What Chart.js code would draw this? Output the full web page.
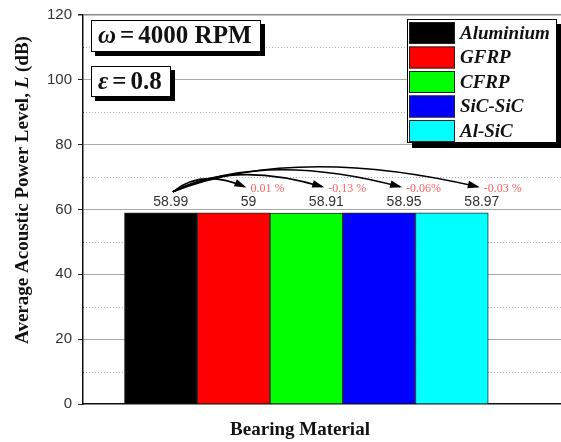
<!DOCTYPE html>
<html>
<head>
<meta charset="utf-8">
<script src="https://cdn.jsdelivr.net/npm/chart.js@4"></script>
<style>
html,body{margin:0;padding:0;background:#fff;overflow:hidden;}
#wrap{width:561px;height:442px;position:relative;}
</style>
</head>
<body>
<div id="wrap"><canvas id="c" width="561" height="442"></canvas></div>
<script>
// ---- data ----
const categories = ['Aluminium', 'GFRP', 'CFRP', 'SiC-SiC', 'Al-SiC'];
const values = [58.99, 59, 58.91, 58.95, 58.97];
const valueLabels = ['58.99', '59', '58.91', '58.95', '58.97'];
const changeLabels = ['0.01 %', '-0.13 %', '-0.06%', '-0.03 %'];
const colors = ['#000000', '#ff0000', '#00ff00', '#0000ff', '#00ffff'];
const majorTicks = [0, 20, 40, 60, 80, 100, 120];
const minorTicks = [10, 30, 50, 70, 90, 110];
const yTitle = ['Average Acoustic Power Level, ', 'L', ' (dB)'];
const xTitle = 'Bearing Material';
const speedText = ['\u03c9', '=', '4000 RPM'];
const eccText = ['\u03b5', '=', '0.8'];

const SERIF = '"Liberation Serif", "Times New Roman", serif';
const SANS = '"Liberation Sans", Arial, sans-serif';

const datasets = categories.map((c, i) => ({
  label: c,
  data: [{x: i + 1, y: values[i]}],
  backgroundColor: colors[i],
  borderColor: '#2a2a2a',
  borderWidth: 1,
  grouped: false,
  barPercentage: 1,
  categoryPercentage: 1
}));

function shadowBox(ctx, x, y, w, h, off) {
  ctx.save();
  ctx.fillStyle = '#000';
  ctx.fillRect(x + off, y + off, w, h);
  ctx.fillStyle = '#fff';
  ctx.fillRect(x, y, w, h);
  ctx.strokeStyle = '#000';
  ctx.lineWidth = 1;
  ctx.strokeRect(x + 0.5, y + 0.5, w - 1, h - 1);
  ctx.restore();
}

const minorGrid = {
  id: 'minorGrid',
  beforeDatasetsDraw(chart) {
    const {ctx, chartArea, scales} = chart;
    ctx.save();
    ctx.strokeStyle = '#b8b8b8';
    ctx.lineWidth = 1;
    ctx.setLineDash([1, 2]);
    minorTicks.forEach(v => {
      const y = Math.round(scales.y.getPixelForValue(v)) + 0.5;
      ctx.beginPath();
      ctx.moveTo(chartArea.left, y);
      ctx.lineTo(chartArea.right, y);
      ctx.stroke();
    });
    ctx.setLineDash([]);
    ctx.strokeStyle = '#222';
    minorTicks.forEach(v => {
      const y = Math.round(scales.y.getPixelForValue(v)) + 0.5;
      ctx.beginPath();
      ctx.moveTo(chartArea.left - 1, y);
      ctx.lineTo(chartArea.left + 1, y);
      ctx.stroke();
    });
    ctx.restore();
  }
};

const annotations = {
  id: 'annotations',
  afterDatasetsDraw(chart) {
    const {ctx, scales} = chart;
    const bars = categories.map((c, i) => chart.getDatasetMeta(i).data[0]);
    const labelX = bars.map((b, i) => b.x + 10 + 5 * i);
    const labelY = scales.y.getPixelForValue(values[0]) - 11;
    ctx.save();
    // value labels
    ctx.font = '14px ' + SANS;
    ctx.fillStyle = '#333';
    ctx.textAlign = 'center';
    ctx.textBaseline = 'middle';
    valueLabels.forEach((t, i) => ctx.fillText(t, labelX[i], labelY));
    // arrows
    const sx = labelX[0] + 2, sy = labelY - 10;
    const peaks = [13, 17, 22, 25];
    for (let k = 1; k < categories.length; k++) {
      const ex = labelX[k] - 4, ey = labelY - 15;
      const cx = sx + (ex - sx) * 0.4;
      const cy = (4 * (sy - peaks[k - 1]) - sy - ey) / 2;
      ctx.strokeStyle = '#000';
      ctx.lineWidth = 1.6;
      ctx.beginPath();
      ctx.moveTo(sx, sy);
      ctx.quadraticCurveTo(cx, cy, ex, ey);
      ctx.stroke();
      const ang = Math.atan2(ey - cy, ex - cx);
      const L = 10, W = 3.8;
      ctx.fillStyle = '#000';
      ctx.beginPath();
      ctx.moveTo(ex + Math.cos(ang) * 2, ey + Math.sin(ang) * 2);
      ctx.lineTo(ex - Math.cos(ang) * L - Math.sin(ang) * W, ey - Math.sin(ang) * L + Math.cos(ang) * W);
      ctx.lineTo(ex - Math.cos(ang) * L + Math.sin(ang) * W, ey - Math.sin(ang) * L - Math.cos(ang) * W);
      ctx.closePath();
      ctx.fill();
      // percent label
      ctx.font = '12px ' + SERIF;
      ctx.fillStyle = '#ff6060';
      ctx.textAlign = 'left';
      ctx.fillText(changeLabels[k - 1], ex + 6, ey + 2);
    }
    ctx.restore();
  },
  afterDraw(chart) {
    const {ctx} = chart;
    ctx.save();
    ctx.textBaseline = 'middle';
    ctx.fillStyle = '#111';
    // parameter boxes
    function mathBox(parts, x, y, w, h) {
      shadowBox(ctx, x, y, w, h, 4);
      let cx = x + 7;
      const cy = y + h / 2 + 1;
      ctx.fillStyle = '#111';
      ctx.textAlign = 'left';
      ctx.font = 'italic bold 25px ' + SERIF;
      ctx.fillText(parts[0], cx, cy);
      cx += ctx.measureText(parts[0]).width + 4;
      ctx.font = 'bold 25px ' + SERIF;
      ctx.fillText(parts[1], cx, cy);
      cx += ctx.measureText(parts[1]).width + 4;
      ctx.fillText(parts[2], cx, cy);
    }
    mathBox(speedText, 91, 20, 170, 32);
    mathBox(eccText, 91, 66, 80, 31);
    // legend
    const lx = 407, ly = 19, lw = 150, lh = 124;
    shadowBox(ctx, lx, ly, lw, lh, 5);
    categories.forEach((c, i) => {
      const ry = ly + 3 + i * 24.5;
      ctx.fillStyle = colors[i];
      ctx.fillRect(lx + 2, ry, 46, 22);
      ctx.strokeStyle = '#222';
      ctx.lineWidth = 1;
      ctx.strokeRect(lx + 2.5, ry + 0.5, 45, 21);
      ctx.fillStyle = '#111';
      ctx.font = 'italic bold 19px ' + SERIF;
      ctx.textAlign = 'left';
      ctx.fillText(c, lx + 53, ry + 12);
    });
    // axis titles
    ctx.fillStyle = '#111';
    ctx.font = 'bold 19px ' + SERIF;
    ctx.textAlign = 'center';
    ctx.fillText(xTitle, 300, 430);
    ctx.translate(23, 190);
    ctx.rotate(-Math.PI / 2);
    const fonts = ['bold 19px ' + SERIF, 'italic bold 19px ' + SERIF, 'bold 19px ' + SERIF];
    let total = 0;
    yTitle.forEach((t, i) => { ctx.font = fonts[i]; total += ctx.measureText(t).width; });
    let px = -total / 2;
    ctx.textAlign = 'left';
    yTitle.forEach((t, i) => { ctx.font = fonts[i]; ctx.fillText(t, px, 0); px += ctx.measureText(t).width; });
    ctx.restore();
  }
};

new Chart(document.getElementById('c'), {
  type: 'bar',
  data: {datasets},
  options: {
    responsive: false,
    animation: false,
    layout: {padding: {top: 14, right: 0, bottom: 0, left: 0}},
    plugins: {legend: {display: false}, tooltip: {enabled: false}},
    scales: {
      x: {
        type: 'linear',
        offset: false,
        min: -0.07,
        max: 6.5,
        ticks: {display: false, stepSize: 1, includeBounds: false},
        grid: {display: false, offset: false},
        border: {display: true, color: '#111', width: 1.5},
        afterFit(s) { s.height = 38; }
      },
      y: {
        min: 0,
        max: 120,
        ticks: {
          stepSize: 10,
          padding: 6,
          color: '#333',
          font: {family: SANS, size: 15},
          callback: v => (majorTicks.includes(v) ? String(v) : '')
        },
        grid: {
          color: c => (c.tick && majorTicks.includes(c.tick.value) && c.tick.value !== 0) ? (c.tick.value === 120 ? '#888' : '#a8a8a8') : 'rgba(0,0,0,0)',
          tickColor: c => (c.tick && majorTicks.includes(c.tick.value)) ? '#222' : 'rgba(0,0,0,0)',
          tickLength: 5,
          lineWidth: c => (c.tick && c.tick.value === 120) ? 1.5 : 1
        },
        border: {display: true, color: '#111', width: 1.5},
        afterFit(s) { s.width = 83; }
      }
    }
  },
  plugins: [minorGrid, annotations]
});
</script>
</body>
</html>
